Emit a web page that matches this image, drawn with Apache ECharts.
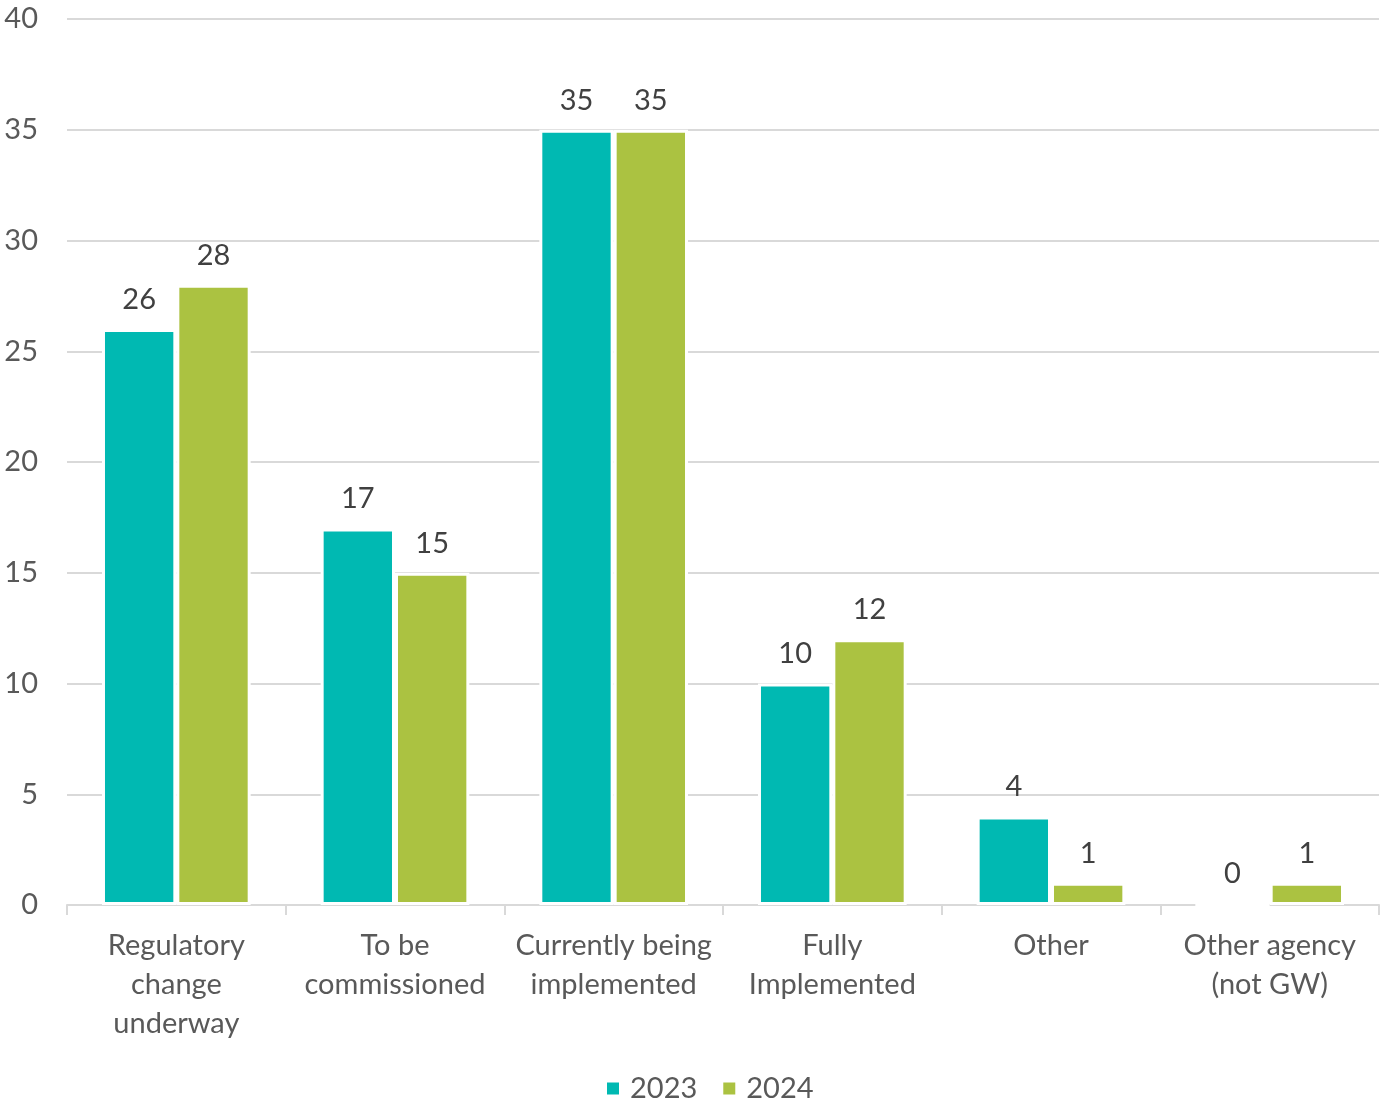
<!DOCTYPE html>
<html>
<head>
<meta charset="utf-8">
<script src="https://cdn.jsdelivr.net/npm/echarts@6/dist/echarts.min.js"></script>
<style>html,body{margin:0;padding:0;background:#fff}#c{width:1392px;height:1103px}</style>
</head>
<body>
<div id="c"></div>
<script>
const categories = ['Regulatory\nchange\nunderway', 'To be\ncommissioned', 'Currently being\nimplemented', 'Fully\nImplemented', 'Other', 'Other agency\n(not GW)'];
const values2023 = [26, 17, 35, 10, 4, 0];
const values2024 = [28, 15, 35, 12, 1, 1];
const seriesNames = ['2023', '2024'];

const FONT = 'Lato';
const chart = echarts.init(document.getElementById('c'));
const labelCfg = {show: true, position: 'top', distance: 15, color: '#404040', fontSize: 29, fontFamily: FONT};
chart.setOption({
  animation: false,
  textStyle: {fontFamily: FONT},
  grid: {left: 67, right: 13, top: 19, bottom: 198, containLabel: false},
  legend: {
    top: 1069, left: 600, itemWidth: 14, itemHeight: 14, itemGap: 24,
    icon: 'rect',
    textStyle: {color: '#595959', fontSize: 29, fontFamily: FONT, padding: [0, 0, 0, 5]},
    data: seriesNames
  },
  xAxis: {
    type: 'category', data: categories,
    axisLine: {lineStyle: {color: '#d9d9d9', width: 2}},
    axisTick: {show: true, length: 10, lineStyle: {color: '#d9d9d9', width: 2}},
    axisLabel: {color: '#595959', fontSize: 29, fontFamily: FONT, lineHeight: 39, margin: 21, interval: 0}
  },
  yAxis: {
    type: 'value', min: 0, max: 40, interval: 5,
    axisLine: {show: false}, axisTick: {show: false},
    splitLine: {lineStyle: {color: '#d9d9d9', width: 2}},
    axisLabel: {color: '#595959', fontSize: 29, fontFamily: FONT, margin: 29}
  },
  series: [
    {name: seriesNames[0], type: 'bar', data: values2023, barWidth: '34%', barGap: '0%',
     itemStyle: {color: '#00B9B2', borderColor: '#ffffff', borderWidth: 3}, label: labelCfg},
    {name: seriesNames[1], type: 'bar', data: values2024, barWidth: '34%', barGap: '0%',
     itemStyle: {color: '#ABC241', borderColor: '#ffffff', borderWidth: 3}, label: labelCfg}
  ]
});
</script>
</body>
</html>
